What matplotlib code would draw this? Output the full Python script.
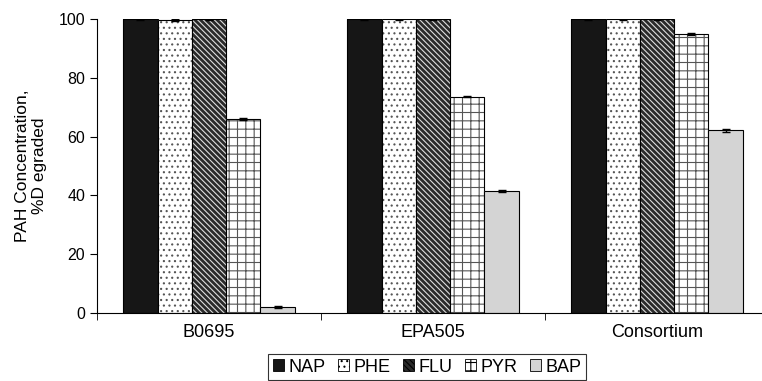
import numpy as np
import matplotlib
matplotlib.use("Agg")
import matplotlib.pyplot as plt

plt.rcParams['font.family'] = ['Liberation Sans', 'DejaVu Sans']
plt.rcParams['hatch.linewidth'] = 0.8

# data
strains = ["B0695", "EPA505", "Consortium"]
pahs = ["NAP", "PHE", "FLU", "PYR", "BAP"]
degraded = {
    "NAP": [100, 100, 100],
    "PHE": [99.7, 100, 100],
    "FLU": [100, 100, 100],
    "PYR": [66.0, 73.6, 95.0],
    "BAP": [2.0, 41.6, 62.1],
}
errors = {
    "NAP": [0.2, 0.2, 0.2],
    "PHE": [0.4, 0.2, 0.2],
    "FLU": [0.2, 0.2, 0.2],
    "PYR": [0.3, 0.3, 0.4],
    "BAP": [0.3, 0.4, 0.6],
}

# face colour, hatch, hatch colour
styles = {
    "NAP": ("#161616", None, "black"),
    "PHE": ("white", "...", "#555555"),
    "FLU": ("#2a2a2a", "\\\\\\\\\\\\", "#dddddd"),
    "PYR": ("white", "++", "#555555"),
    "BAP": ("#d4d4d4", None, "black"),
}

fig = plt.figure(figsize=(7.62, 3.81), dpi=100)
ax = fig.add_axes([97 / 762, 1 - 313 / 381, 672 / 762, 294 / 381])

x = np.arange(len(strains))
width = 0.153
for i, p in enumerate(pahs):
    face, hatch, hcol = styles[p]
    pos = x + (i - 2) * width
    # hatch colour follows the edge colour, so draw the outline separately
    ax.bar(pos, degraded[p], width, color=face, edgecolor=hcol,
           linewidth=0, hatch=hatch, label=p)
    ax.bar(pos, degraded[p], width, fill=False, edgecolor="black",
           linewidth=0.8, yerr=errors[p], capsize=3,
           error_kw=dict(ecolor="black", elinewidth=1, capthick=1))

ax.set_xlim(-0.5, 2.5)
ax.set_ylim(0, 100)
ax.set_yticks(np.arange(0, 101, 20))
ax.set_xticks(x)
ax.set_xticklabels(strains, fontsize=13)
ax.tick_params(axis="x", which="major", length=0, pad=8)
ax.set_xticks(np.arange(-0.5, 2.6, 1), minor=True)
ax.tick_params(axis="x", which="minor", length=5, direction="out")
ax.tick_params(axis="y", labelsize=11.5, length=5, direction="out")
ax.spines["top"].set_visible(False)
ax.spines["right"].set_visible(False)
ax.set_ylabel("PAH Concentration,\n%D egraded", fontsize=12.5, labelpad=8)

handles, labels = ax.get_legend_handles_labels()
leg = fig.legend(handles[:5], labels[:5], loc="upper center",
                 bbox_to_anchor=(427 / 762, 1 - 354 / 381), ncol=5,
                 fontsize=13, frameon=True, fancybox=False, edgecolor="black",
                 handlelength=0.6, handleheight=0.6, handletextpad=0.25,
                 columnspacing=0.7, borderpad=0.25, borderaxespad=0)
leg.get_frame().set_linewidth(0.8)
for h in leg.legend_handles:
    h.set_edgecolor("black")
    h.set_linewidth(0.6)

fig.savefig("out.png", dpi=100)
